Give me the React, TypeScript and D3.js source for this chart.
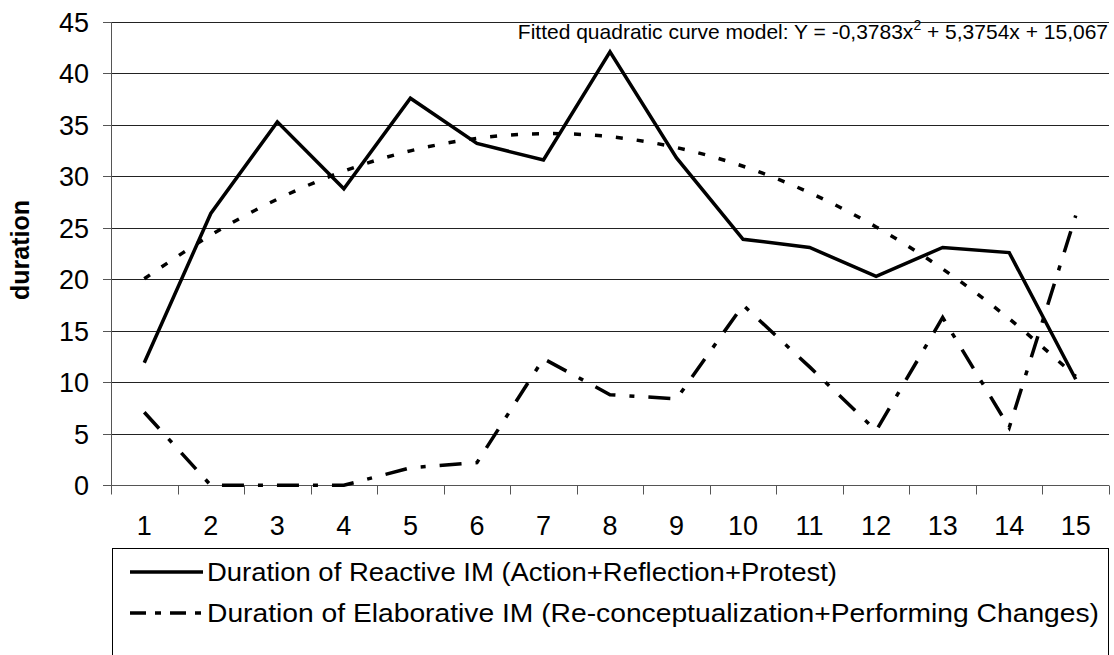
// Line chart: reactive vs elaborative IM duration, with quadratic trendline
import * as d3 from 'd3';

const CATEGORIES = [1, 2, 3, 4, 5, 6, 7, 8, 9, 10, 11, 12, 13, 14, 15];
const REACTIVE = [11.9, 26.4, 35.3, 28.8, 37.6, 33.2, 31.6, 42.1, 31.8, 23.9, 23.1, 20.3, 23.1, 22.6, 10.3];
const ELABORATIVE = [7.1, 0, 0, 0, 1.7, 2.2, 12.3, 8.8, 8.4, 17.5, 11.5, 5.3, 16.3, 5.6, 26.2];
// coefficients printed on the chart (a x^2 + b x + c)
const FIT = { a: -0.3783, b: 5.3754, c: 15.067 };
const Y_TICKS = [0, 5, 10, 15, 20, 25, 30, 35, 40, 45];

const LEGEND = [
  { label: 'Duration of Reactive IM (Action+Reflection+Protest)', dash: null, width: 630 },
  { label: 'Duration of Elaborative IM (Re-conceptualization+Performing Changes)', dash: '16 9 6 9', width: 892 },
];

const W = 1114, H = 655;
const FONT = 'Liberation Sans, Arial, sans-serif';

export default function App() {
  const x = d3.scaleBand<number>().domain(CATEGORIES).range([111, 1109]).padding(0);
  const y = d3.scaleLinear().domain([0, 45]).range([485.3, 22]);
  const cx = (c: number) => (x(c) ?? 0) + x.bandwidth() / 2;

  const line = d3.line<[number, number]>().x(d => cx(d[0])).y(d => y(d[1]));
  const reactive = CATEGORIES.map((c, i) => [c, REACTIVE[i]] as [number, number]);
  const elaborative = CATEGORIES.map((c, i) => [c, ELABORATIVE[i]] as [number, number]);
  const fitted = CATEGORIES.map(c => [c, FIT.a * c * c + FIT.b * c + FIT.c] as [number, number]);
  const curve = d3.line<[number, number]>().x(d => cx(d[0])).y(d => y(d[1])).curve(d3.curveCatmullRom);

  const boundaries = [...CATEGORIES.map(c => x(c) ?? 0), 1109];
  const axisY = Math.round(y(0)) + 0.5;

  return (
    <svg width={W} height={H} style={{ position: 'absolute', left: 0, top: 0, background: '#fff' }}>
      {/* gridlines */}
      {Y_TICKS.filter(t => t > 0).map(t => (
        <line key={t} x1={111} x2={1109} y1={Math.round(y(t)) + 0.5} y2={Math.round(y(t)) + 0.5}
          stroke="#222" strokeWidth={1} />
      ))}
      {/* y axis */}
      <line x1={111.5} x2={111.5} y1={Math.round(y(45))} y2={axisY} stroke="#555" />
      {Y_TICKS.map(t => (
        <g key={t}>
          <line x1={103} x2={111} y1={Math.round(y(t)) + 0.5} y2={Math.round(y(t)) + 0.5} stroke="#555" />
          <text x={89} y={y(t)} dy="0.36em" textAnchor="end" fontFamily={FONT} fontSize={27}>{t}</text>
        </g>
      ))}
      {/* x axis */}
      <line x1={111} x2={1109} y1={axisY} y2={axisY} stroke="#555" />
      {boundaries.map((b, i) => (
        <line key={i} x1={Math.round(b) + 0.5} x2={Math.round(b) + 0.5} y1={axisY} y2={axisY + 9} stroke="#555" />
      ))}
      {CATEGORIES.map(c => (
        <text key={c} x={cx(c)} y={525} dy="0.36em" textAnchor="middle" fontFamily={FONT} fontSize={27}>{c}</text>
      ))}
      <text transform={`translate(20,250) rotate(-90)`} textAnchor="middle" dy="0.35em"
        fontFamily={FONT} fontSize={25} fontWeight="bold">duration</text>

      {/* series */}
      <path d={curve(fitted) ?? ''} fill="none" stroke="#000" strokeWidth={3.5} strokeDasharray="7 14" />
      <path d={line(elaborative) ?? ''} fill="none" stroke="#000" strokeWidth={3.5} strokeDasharray="22 14 5 14" />
      <path d={line(reactive) ?? ''} fill="none" stroke="#000" strokeWidth={3.5} strokeLinejoin="miter" />

      {/* equation */}
      <text x={1108} y={39} textAnchor="end" fontFamily={FONT} fontSize={21}>
        Fitted quadratic curve model: Y = -0,3783x
        <tspan dy={-9} fontSize={14}>2</tspan>
        <tspan dy={9}> + 5,3754x + 15,067</tspan>
      </text>

      {/* legend */}
      <rect x={112.5} y={548.5} width={996} height={130} fill="none" stroke="#000" />
      {LEGEND.map((l, i) => {
        const ly = 572 + i * 41;
        return (
          <g key={i}>
            <line x1={130} x2={203} y1={ly} y2={ly} stroke="#000" strokeWidth={3.5}
              strokeDasharray={l.dash ?? undefined} />
            <text x={207} y={ly} dy="0.36em" fontFamily={FONT} fontSize={26}
              textLength={l.width} lengthAdjust="spacingAndGlyphs">{l.label}</text>
          </g>
        );
      })}
    </svg>
  );
}
